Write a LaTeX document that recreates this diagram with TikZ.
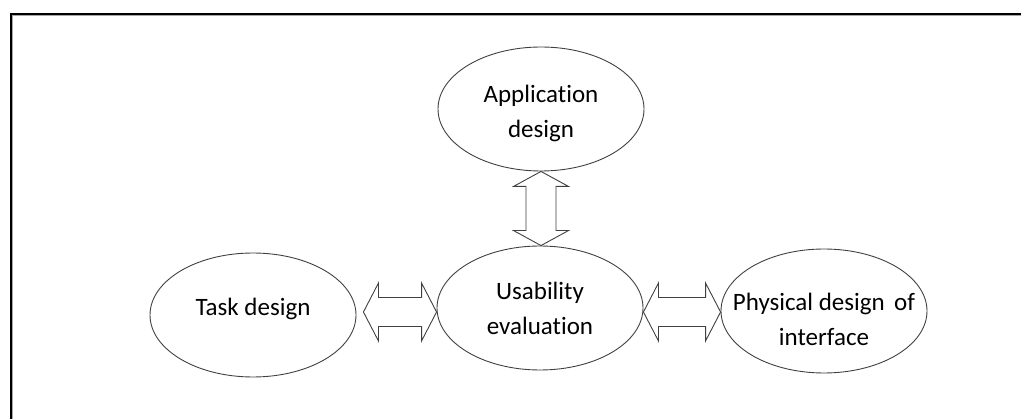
\documentclass[tikz,border=0pt]{standalone}
\usepackage{fontspec}
\setmainfont{Carlito}[Ligatures=NoCommon]
\usetikzlibrary{calc,shapes.geometric}

% hollow double-headed arrow between two tips, horizontal (#1 left tip, #2 right tip)
\newcommand\hdarrow[2]{%
  \draw[arrowline] let \p1=(#1), \p2=(#2) in
    (\x1,\y1) -- (\x1+15pt,\y1+29pt) -- (\x1+15pt,\y1+14.5pt)
    -- (\x2-15pt,\y1+14.5pt) -- (\x2-15pt,\y1+29pt) -- (\x2,\y1)
    -- (\x2-15pt,\y1-29pt) -- (\x2-15pt,\y1-14.5pt)
    -- (\x1+15pt,\y1-14.5pt) -- (\x1+15pt,\y1-29pt) -- cycle;}
% hollow double-headed arrow, vertical (#1 upper tip, #2 lower tip)
\newcommand\vdarrow[2]{%
  \draw[arrowline] let \p1=(#1), \p2=(#2) in
    (\x1,\y1) -- (\x1+27.5pt,\y1-15pt) -- (\x1+15pt,\y1-15pt)
    -- (\x1+15pt,\y2+15pt) -- (\x1+27.5pt,\y2+15pt) -- (\x1,\y2)
    -- (\x1-27.5pt,\y2+15pt) -- (\x1-15pt,\y2+15pt)
    -- (\x1-15pt,\y1-15pt) -- (\x1-27.5pt,\y1-15pt) -- cycle;}

\begin{document}
\begin{tikzpicture}[x=1pt,y=-1pt,
  oval/.style={ellipse, draw=black!75, line width=0.9pt,
    minimum width=206pt, minimum height=124pt, inner sep=0pt,
    align=center, font=\fontsize{25}{35}\selectfont},
  arrowline/.style={draw=black!75, line width=0.9pt, line join=miter}]
\useasboundingbox (0,0) rectangle (1021,419);

% outer frame (left and top edges)
\draw[black!35, line width=1pt] (12.2,419) -- (12.2,16) -- (1021,16);
\draw[line width=2.4pt] (10.7,419) -- (10.7,14.3) -- (1021,14.3);

% process ellipses (struts set the text a little off-centre)
\node[oval] (app)  at (541,109) {\rule{0pt}{27pt}Application\\design};
\node[oval] (use)  at (540,308) {\rule{0pt}{19pt}Usability\\evaluation};
\node[oval] (task) at (253,315) {\rule[-16pt]{0pt}{32pt}Task design};
\node[oval, inner xsep=-22pt] (phys) at (824,311)
  {\rule{0pt}{34pt}Physical design\hspace{0.15em} of\\interface};

% two-way links
\vdarrow{app.south}{use.north}
\hdarrow{$(task.east)+(7,-3)$}{use.west}
\hdarrow{$(use.east)+(0,4)$}{phys.west}
\end{tikzpicture}
\end{document}
